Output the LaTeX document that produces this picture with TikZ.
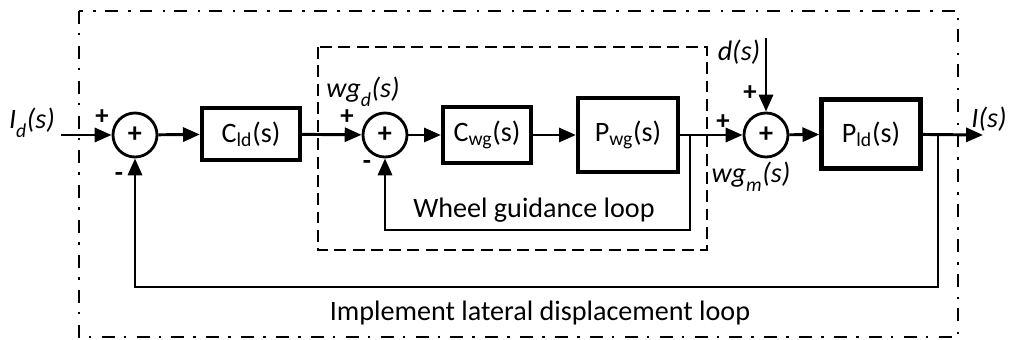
\documentclass[tikz,border=0pt]{standalone}
\usepackage{fontspec}
\setmainfont{Carlito}
\usetikzlibrary{arrows.meta, positioning}

\begin{document}
\begin{tikzpicture}[
  x=0.025cm, y=-0.025cm,
  font=\fontsize{20}{23}\selectfont,
  block/.style = {draw, line width=3pt, minimum width=2.45cm, minimum height=1.3cm, inner sep=0pt},
  sumnode/.style = {draw, circle, line width=2pt, minimum size=1.1cm, inner sep=0pt},
  signal/.style = {line width=2.1pt},
  arrow/.style = {signal, -{Triangle[length=12pt, width=10pt]}},
  sign/.style = {font=\fontsize{19}{19}\selectfont\bfseries, inner sep=0pt},
  lbl/.style = {font=\fontsize{20}{23}\selectfont\itshape, inner sep=0pt}
]
\useasboundingbox (0,0) rectangle (1009,340);

% Loop frames
\draw[line width=1.8pt, dash pattern=on 9.2pt off 6.4pt on 1.8pt off 7.4pt] (79,11) rectangle (958,337);
\draw[line width=1.9pt, dash pattern=on 8.5pt off 4.5pt] (318,47) rectangle (707,250);

% Blocks and summing junctions
\node[sumnode] (sum1) at (135,135) {\textbf{+}};
\node[block] (cld) at (251,134) {C\textsubscript{ld}(s)};
\node[sumnode] (sum2) at (385,135) {\textbf{+}};
\node[block, minimum width=2.2cm, minimum height=1.4cm] (cwg) at (487,135) {C\textsubscript{wg}(s)};
\node[block, minimum width=2.5cm, minimum height=1.85cm] (pwg) at (628,135) {P\textsubscript{wg}(s)};
\node[sumnode] (sum3) at (766,135) {\textbf{+}};
\node[block, minimum width=2.475cm, minimum height=1.725cm] (pld) at (871,134) {P\textsubscript{ld}(s)};

% Free ends and branch points
\coordinate (in) at (61,135);
\coordinate (out) at (983,135);
\coordinate (dist) at (766,38);
\coordinate (br1) at (690,135);
\coordinate (br2) at (938,135);

% Forward path
\draw[arrow] (in) -- (sum1);
\draw[arrow] (sum1) -- (cld);
\draw[arrow] (cld) -- (sum2);
\draw[arrow] (sum2) -- (cwg);
\draw[arrow] (cwg) -- (pwg);
\draw[arrow] (pwg) -- (sum3);
\draw[arrow] (dist) -- (sum3);
\draw[arrow] (sum3) -- (pld);
\draw[arrow] (pld) -- (out);

% Feedback paths
\draw[arrow] (br1) -- (br1 |- 0,230) -- (sum2 |- 0,230) -- (sum2);
\draw[arrow] (br2) -- (br2 |- 0,287) -- (sum1 |- 0,287) -- (sum1);

% Signal labels
\node[lbl] (idlbl) at (32,123) {I\raisebox{-0.35ex}{\textsubscript{d}}(s)};
\node[lbl] (wgdlbl) at (363,92) {wg\raisebox{-0.35ex}{\textsubscript{d}}(s)};
\node[lbl] (dlbl) at (739,52) {d(s)};
\node[lbl] (wgmlbl) at (751,177) {wg\raisebox{-0.35ex}{\textsubscript{m}}(s)};
\node[lbl] (outlbl) at (989,119) {I(s)};

% Signs
\node[sign] (p1) at (102,117) {+};
\node[sign] (m1) at (119,177) {-};
\node[sign] (p2) at (347,117) {+};
\node[sign] (m2) at (367,165) {-};
\node[sign] (p3) at (750,93) {+};
\node[sign] (p4) at (723,122) {+};

% Loop names
\node (innerlbl) at (534,210) {Wheel guidance loop};
\node (outerlbl) at (540,313) {Implement lateral displacement loop};
\end{tikzpicture}
\end{document}
